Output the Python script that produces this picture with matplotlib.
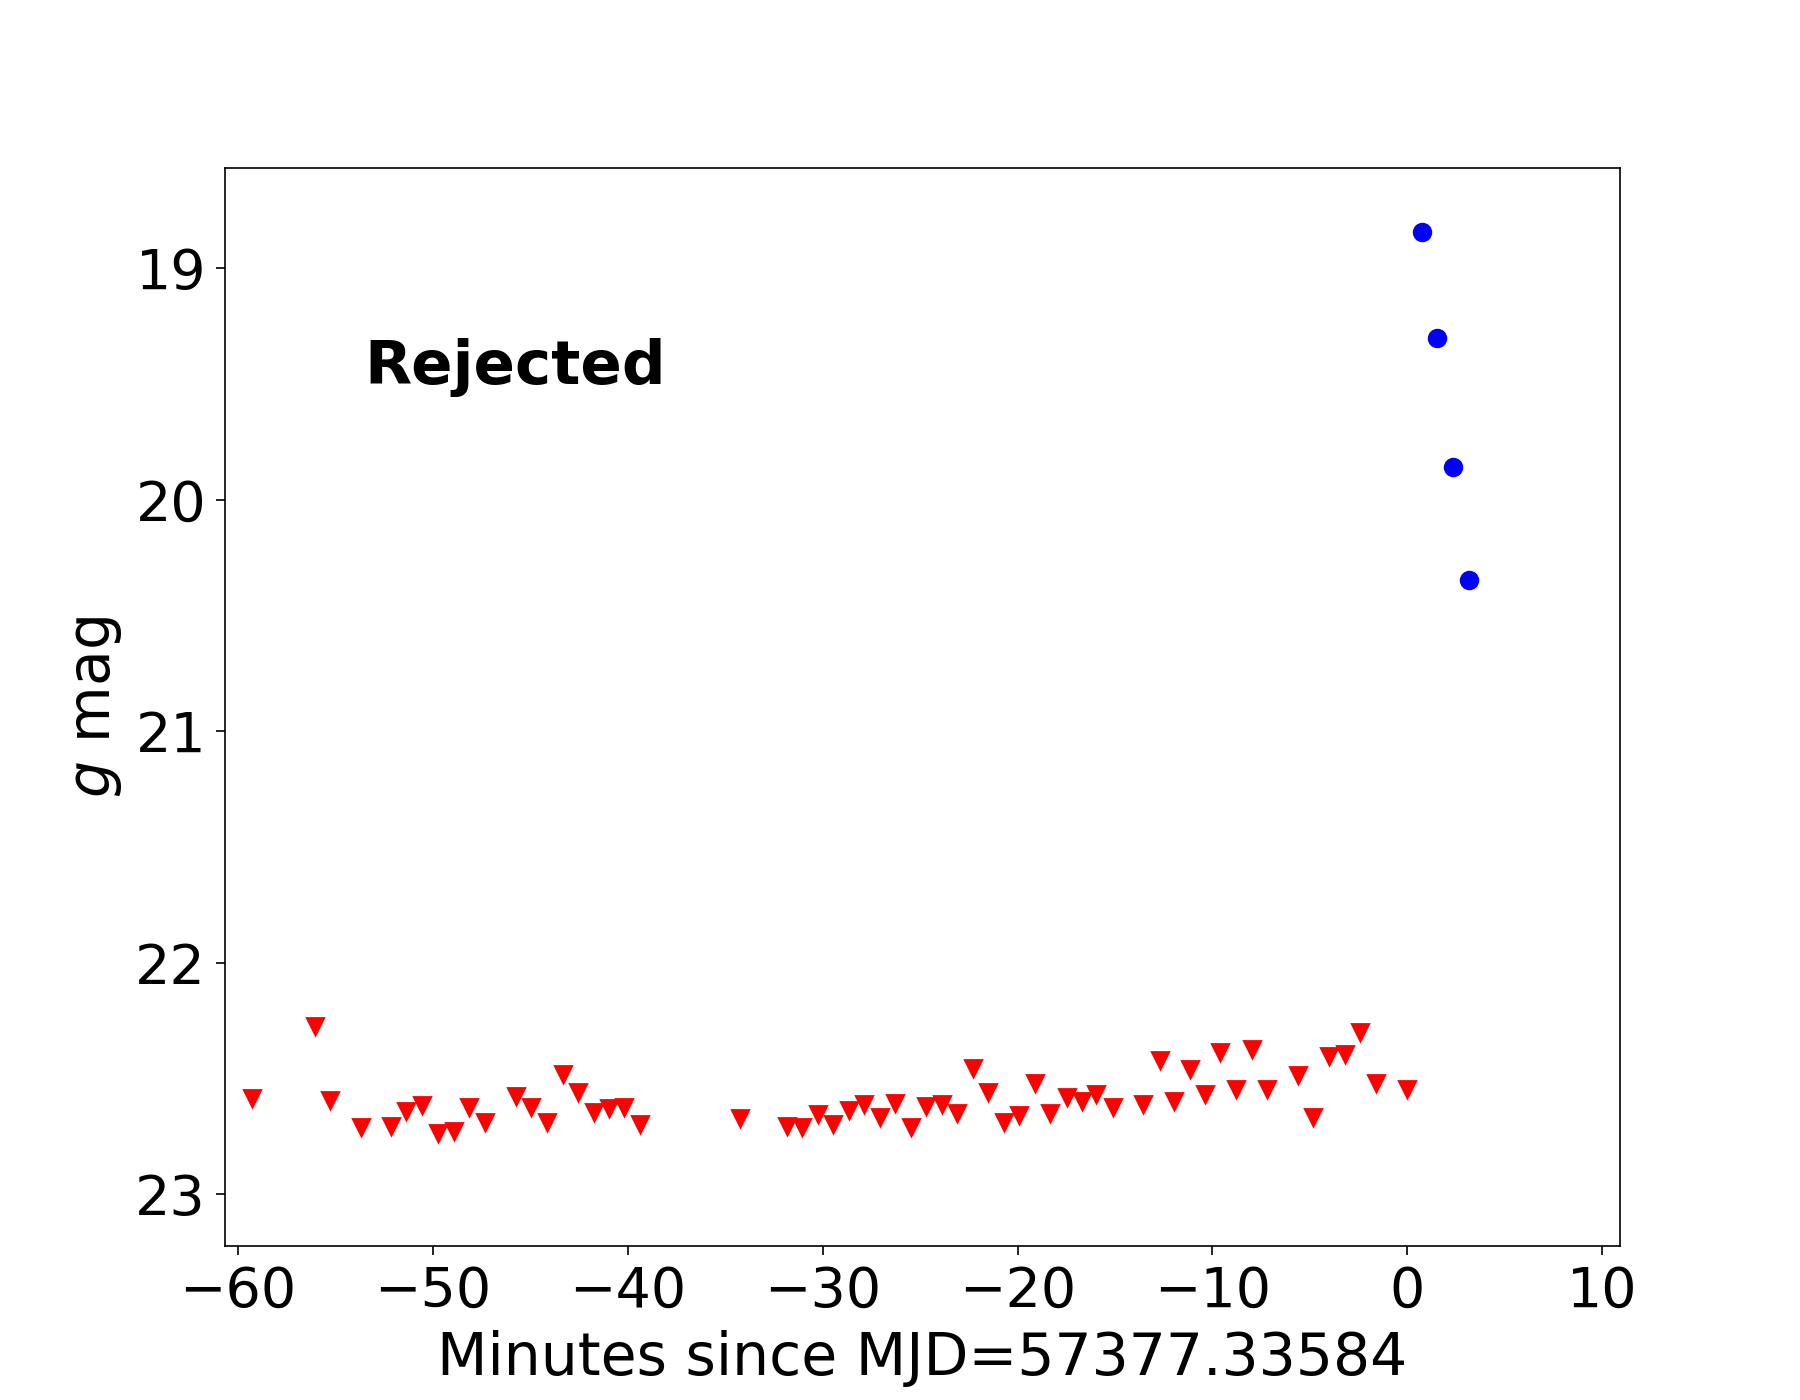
import matplotlib
matplotlib.use("Agg")
import matplotlib.pyplot as plt

# Upper limits (non-detections), minutes since MJD=57377.33584
lim_x = [-59.28, -56.07, -55.30, -53.71, -52.17, -51.36, -50.58, -49.76, -48.94,
         -48.17, -47.35, -45.76, -44.95, -44.17, -43.35, -42.58, -41.76, -40.99,
         -40.18, -39.36, -34.27, -31.84, -31.04, -30.22, -29.45, -28.65, -27.86,
         -27.06, -26.27, -25.45, -24.68, -23.86, -23.09, -22.27, -21.50, -20.68,
         -19.91, -19.09, -18.34, -17.48, -16.71, -15.96, -15.12, -13.55, -12.71,
         -11.96, -11.14, -10.37, -9.61, -8.78, -7.96, -7.19, -5.61, -4.84, -4.02,
         -3.19, -2.43, -1.61, -0.02]
lim_mag = [22.585, 22.273, 22.594, 22.711, 22.707, 22.642, 22.616, 22.737, 22.728,
           22.624, 22.689, 22.576, 22.624, 22.689, 22.481, 22.559, 22.646, 22.629,
           22.624, 22.698, 22.672, 22.707, 22.711, 22.655, 22.698, 22.637, 22.611,
           22.668, 22.607, 22.711, 22.620, 22.611, 22.650, 22.455, 22.559, 22.689,
           22.659, 22.520, 22.650, 22.581, 22.598, 22.568, 22.624, 22.611, 22.421,
           22.598, 22.460, 22.568, 22.386, 22.546, 22.373, 22.546, 22.486, 22.668,
           22.403, 22.395, 22.300, 22.520, 22.546]

# Detections
det_x = [0.75, 1.52, 2.34, 3.16]
det_mag = [18.842, 19.301, 19.859, 20.347]

fig = plt.figure(figsize=(9, 7), dpi=200)
ax = fig.add_subplot(111)

ax.plot(lim_x, lim_mag, 'v', color='red', ms=6)
ax.plot(det_x, det_mag, 'o', color='blue', ms=6)

ax.set_xlim(-60.67, 10.91)
ax.set_ylim(23.225, 18.566)
ax.set_xticks([-60, -50, -40, -30, -20, -10, 0, 10])
ax.set_yticks([19, 20, 21, 22, 23])

ax.tick_params(labelsize=20, length=3.3, width=0.6)
for s in ax.spines.values():
    s.set_linewidth(0.6)

ax.set_xlabel('Minutes since MJD=57377.33584', fontsize=21)
ax.set_ylabel('$g$ mag', fontsize=21)
ax.text(0.1, 0.8, 'Rejected', transform=ax.transAxes, fontsize=22, fontweight='bold')

fig.savefig('out.png', dpi=200)
